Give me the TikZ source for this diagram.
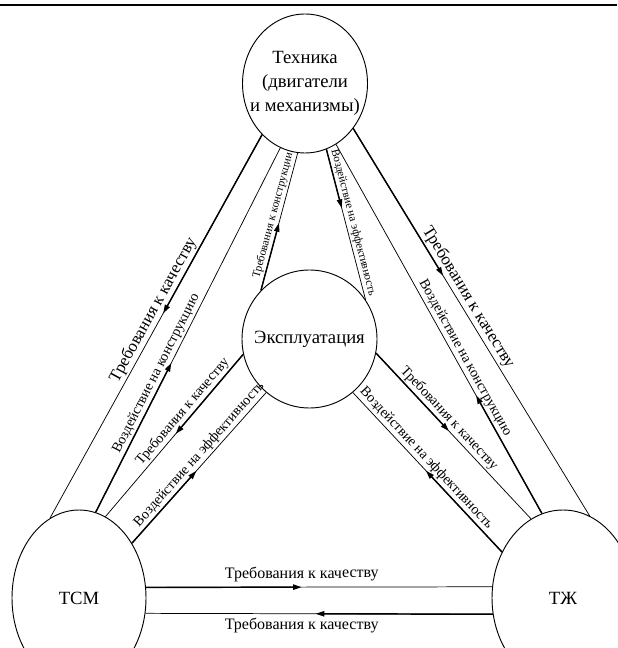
\documentclass[tikz,border=0pt]{standalone}
\usepackage{fontspec}
\setmainfont{Liberation Serif}
\usetikzlibrary{arrows.meta, calc, shapes.geometric}
\newcommand\unitfont{\fontsize{14}{18}\selectfont}
\newcommand\bigfont{\fontsize{12.7}{15}\selectfont}
\newcommand\midfont{\fontsize{12}{14}\selectfont}
\newcommand\smallfont{\fontsize{10.6}{12}\selectfont}
\newcommand\tinyfont{\fontsize{8.5}{10}\selectfont}
\tikzset{
  unit/.style = {draw, ellipse, inner sep=0pt, line width=0.7pt},
  flow/.style = {line width=0.55pt},
  flowhead/.style = {line width=1.1pt, -{Triangle[length=6.5pt, width=4pt]}},
  lbl/.style = {sloped, inner sep=1.5pt}
}

\begin{document}
\begin{tikzpicture}[x=0.75pt, y=-0.75pt]
\useasboundingbox (0,0) rectangle (617,648);
\draw[line width=1.3pt] (0,5) -- (617,5);
% units
\node[unit, minimum width=93.75pt, minimum height=104.25pt] (tech) at (305,83.5) {};
\node[unit, minimum width=101.25pt, minimum height=103.5pt] (exp) at (309.5,339) {};
\node[unit, minimum width=100.5pt, minimum height=132pt] (tsm) at (79,598) {};
\node[unit, minimum width=106.5pt, minimum height=132pt] (tzh) at (563,598) {};
\node[font=\unitfont, align=center] (tech-txt) at (tech) {Техника\\(двигатели\\и механизмы)};
\node[font=\unitfont] (exp-txt) at (exp) {Эксплуатация};
\node[font=\unitfont] (tsm-txt) at (tsm) {ТСМ};
\node[font=\unitfont] (tzh-txt) at (tzh) {ТЖ};
% flows: source/target/arrow pos/label pos/font/side/sep/text
\foreach \s/\t/\p/\q/\f/\side/\sep/\txt [count=\i] in {
  tech.230/tsm.110/0.466/0.47/\bigfont/south/1.5/Требования к качеству,
  tsm.79.5/tech.249/0.41/0.37/\smallfont/south/1.5/Воздействие на конструкцию,
  exp.135/tech.264/0.49/0.53/\tinyfont/south/1.5/Требования к конструкции,
  tech.288/exp.35/0.39/0.5/\tinyfont/south/1.5/Воздействие на эффективность,
  tech.317/tzh.72.6/0.38/0.45/\bigfont/south/1.5/Требования к качеству,
  tzh.104/tech.297/0.32/0.41/\smallfont/south/1.5/Воздействие на конструкцию,
  exp.193.5/tsm.72.6/0.49/0.39/\smallfont/south/1.5/Требования к качеству,
  tsm.46/exp.231.5/0.48/0.55/\smallfont/south/1.5/Воздействие на эффективность,
  exp.348/tzh.112/0.47/0.43/\smallfont/south/1.5/Требования к качеству,
  tzh.143/exp.309/0.51/0.55/\smallfont/south/1.5/Воздействие на эффективность,
  tsm.9.4/tzh.171/0.45/0.45/\midfont/south/4/Требования к качеству,
  tzh.193/tsm.-13.6/0.51/0.55/\midfont/north/3/Требования к качеству}{
  \draw[flow] (\s) -- (\t);
  \draw[flowhead] (\s) -- ($(\s)!\p!(\t)$);
  \path (\s) -- node[lbl, pos=\q, font=\f, anchor=\side, inner sep=\sep pt] (lbl-\i) {\txt} (\t);
}
\end{tikzpicture}
\end{document}
